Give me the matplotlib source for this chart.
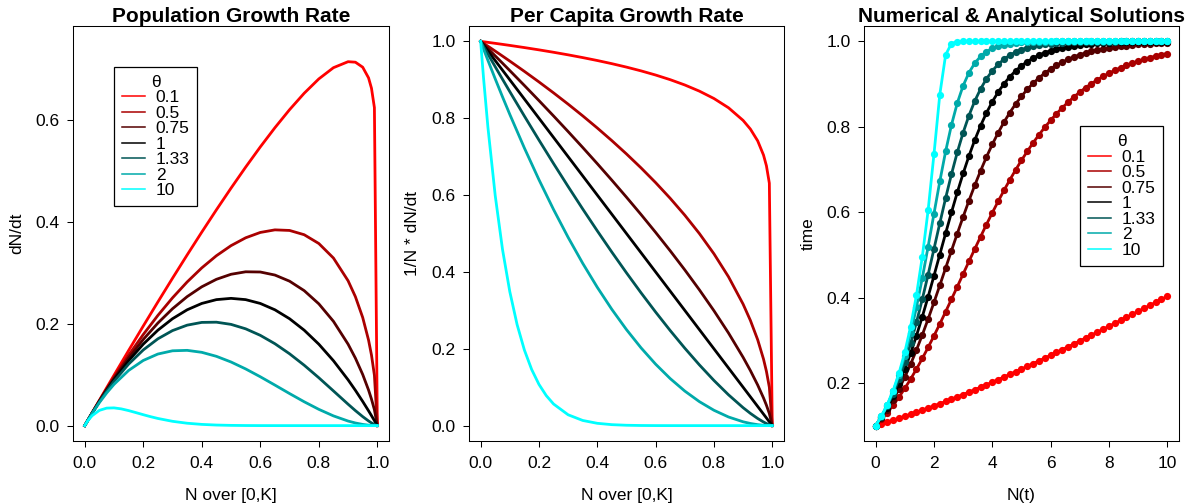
import matplotlib
matplotlib.use('agg')
import matplotlib.pyplot as plt

plt.rcParams['font.family'] = ['Liberation Sans', 'DejaVu Sans']
plt.rcParams['font.size'] = 12.5

# theta values and colours (red -> black -> cyan ramp)
theta_labels = ['0.1', '0.5', '0.75', '1', '1.33', '2', '10']
colors = ['#FF0000', '#AA0000', '#550000', '#000000', '#005555', '#00AAAA', '#00FFFF']

# N over [0,K]
N_grid = [0, 0.01, 0.025, 0.05, 0.075, 0.1, 0.15, 0.2, 0.25, 0.3, 0.35, 0.4, 0.45, 0.5,
          0.55, 0.6, 0.65, 0.7, 0.75, 0.8, 0.85, 0.9, 0.925, 0.95, 0.97, 0.98, 0.99, 1.0]
# finer grid near 0 for theta = 10
N_grid_10 = [0, 0.01, 0.025, 0.05, 0.075, 0.1, 0.125, 0.15, 0.175, 0.2, 0.225, 0.25, 0.3, 0.35,
             0.4, 0.45, 0.5, 0.55, 0.6, 0.65, 0.7, 0.8, 0.9, 1.0]

# population growth rate dN/dt
rate_01 = [0, .00999, .02494, .04974, .07442, .09895, .14758, .19559, .24291, .28949, .33524, .38008, .42389, .46652,
           .50779, .54746, .58522, .62060, .65291, .68107, .70312, .71490, .71391, .70407, .68310, .66272, .62465, 0]
rate_05 = [0, .00995, .02469, .04873, .07213, .09487, .13829, .17889, .21651, .25100, .28218, .30984, .33373, .35355,
           .36895, .37947, .38455, .38341, .375, .35777, .32921, .28461, .25332, .21243, .16801, .13859, .099, 0]
rate_075 = [0, .00992, .02453, .04811, .07074, .09240, .13279, .16918, .20148, .22959, .25337, .27269, .28740, .29730,
            .30219, .30178, .29579, .28375, .26516, .23926, .20488, .16005, .13258, .10045, .06992, .05212, .03130, 0]
rate_1 = [0, .0099, .024375, .0475, .069375, .09, .1275, .16, .1875, .21, .2275, .24, .2475, .25,
          .2475, .24, .2275, .21, .1875, .16, .1275, .09, .069375, .0475, .0291, .0196, .0099, 0]
rate_133 = [0, .00987, .02417, .04670, .06761, .08693, .12084, .14864, .17052, .18668, .19735, .20277, .20319, .19889,
            .19017, .17737, .16089, .14115, .11867, .09407, .06818, .04209, .02951, .01768, .00915, .00539, .00217, 0]
rate_2 = [0, .009801, .023766, .045125, .064172, .081, .108375, .128, .140625, .147, .147875, .144, .136125, .125,
          .111375, .096, .079625, .063, .046875, .032, .019125, .009, .005203, .002375, .000873, .000392, .000099, 0]
rate_10 = [0, .00904, .01941, .02994, .03439, .03487, .03289, .02953, .02556, .02147, .01759, .01408, .00848, .00471,
           .00242, .00114, .00049, .00019, .000063, .000018, .000004, 0, 0, 0]

# per capita growth rate 1/N * dN/dt
percap_01 = [1, .99900, .99747, .99488, .99223, .98952, .98388, .97793, .97164, .96496, .95783, .95020, .94197, .93303,
             .92325, .91244, .90034, .88657, .87055, .85134, .82720, .79433, .77179, .74113, .70423, .67624, .63096, 0]
percap_05 = [1, .99499, .98742, .97468, .96177, .94868, .92195, .89443, .86603, .83666, .80623, .77460, .74162, .70711,
             .67082, .63246, .59161, .54772, .5, .44721, .38730, .31623, .27386, .22361, .17321, .14142, .1, 0]
percap_075 = [1, .99249, .98119, .96226, .94320, .92402, .88524, .84590, .80593, .76529, .72391, .68173, .63866, .59460,
              .54943, .50297, .45504, .40536, .35355, .29907, .24103, .17783, .14332, .10574, .07208, .05318, .03162, 0]
percap_1 = [1, .99, .975, .95, .925, .9, .85, .8, .75, .7, .65, .6, .55, .5,
            .45, .4, .35, .3, .25, .2, .15, .1, .075, .05, .03, .02, .01, 0]
percap_133 = [1, .98672, .96689, .93405, .90151, .86925, .80561, .74321, .68207, .62227, .56386, .50692, .45153, .39777,
              .34576, .29562, .24752, .20164, .15822, .11759, .08021, .04677, .03190, .01861, .00943, .00550, .00219, 0]
percap_2 = [1, .9801, .950625, .9025, .855625, .81, .7225, .64, .5625, .49, .4225, .36, .3025, .25,
            .2025, .16, .1225, .09, .0625, .04, .0225, .01, .005625, .0025, .0009, .0004, .0001, 0]
percap_10 = [1, .90438, .77633, .59874, .45858, .34868, .26308, .19687, .14606, .10737, .07817, .05631, .02825, .01346,
             .00605, .00253, .00098, .00034, .000105, .000028, .000006, 0, 0, 0]

# numerical / analytical solutions, N starting at 0.1
time_pts = [0.0, 0.2, 0.4, 0.6, 0.8, 1.0, 1.2, 1.4, 1.6, 1.8, 2.0, 2.2, 2.4, 2.6, 2.8, 3.0, 3.2, 3.4, 3.6, 3.8,
            4.0, 4.2, 4.4, 4.6, 4.8, 5.0, 5.2, 5.4, 5.6, 5.8, 6.0, 6.2, 6.4, 6.6, 6.8, 7.0, 7.2, 7.4, 7.6, 7.8,
            8.0, 8.2, 8.4, 8.6, 8.8, 9.0, 9.2, 9.4, 9.6, 9.8, 10.0]
sol_01 = [0.1000, 0.1042, 0.1084, 0.1128, 0.1173, 0.1219, 0.1265, 0.1313, 0.1362, 0.1412, 0.1462, 0.1514, 0.1566,
          0.1620, 0.1674, 0.1729, 0.1786, 0.1843, 0.1900, 0.1959, 0.2018, 0.2078, 0.2139, 0.2201, 0.2263, 0.2325,
          0.2389, 0.2453, 0.2518, 0.2583, 0.2649, 0.2715, 0.2781, 0.2848, 0.2915, 0.2984, 0.3052, 0.3120, 0.3189,
          0.3258, 0.3327, 0.3396, 0.3466, 0.3536, 0.3606, 0.3676, 0.3746, 0.3816, 0.3886, 0.3956, 0.4026]
sol_05 = [0.1000, 0.1144, 0.1303, 0.1477, 0.1667, 0.1872, 0.2091, 0.2325, 0.2573, 0.2832, 0.3102, 0.3381, 0.3668,
          0.3959, 0.4254, 0.4550, 0.4846, 0.5139, 0.5427, 0.5710, 0.5985, 0.6251, 0.6508, 0.6754, 0.6989, 0.7213,
          0.7424, 0.7623, 0.7811, 0.7987, 0.8151, 0.8304, 0.8446, 0.8577, 0.8699, 0.8812, 0.8915, 0.9011, 0.9099,
          0.9179, 0.9253, 0.9320, 0.9382, 0.9438, 0.9489, 0.9536, 0.9579, 0.9618, 0.9653, 0.9686, 0.9715]
sol_075 = [0.1000, 0.1176, 0.1377, 0.1603, 0.1855, 0.2135, 0.2441, 0.2772, 0.3125, 0.3498, 0.3886, 0.4286, 0.4691,
           0.5097, 0.5498, 0.5890, 0.6269, 0.6630, 0.6971, 0.7291, 0.7586, 0.7858, 0.8106, 0.8331, 0.8533, 0.8714,
           0.8876, 0.9019, 0.9145, 0.9256, 0.9354, 0.9440, 0.9514, 0.9579, 0.9636, 0.9686, 0.9728, 0.9765, 0.9797,
           0.9825, 0.9849, 0.9870, 0.9888, 0.9903, 0.9917, 0.9928, 0.9938, 0.9947, 0.9954, 0.9961, 0.9966]
sol_1 = [0.1000, 0.1195, 0.1422, 0.1684, 0.1983, 0.2320, 0.2695, 0.3106, 0.3550, 0.4020, 0.4509, 0.5007, 0.5505,
         0.5994, 0.6463, 0.6906, 0.7316, 0.7690, 0.8026, 0.8324, 0.8585, 0.8811, 0.9005, 0.9170, 0.9310, 0.9428,
         0.9527, 0.9609, 0.9678, 0.9735, 0.9782, 0.9821, 0.9853, 0.9879, 0.9901, 0.9919, 0.9933, 0.9945, 0.9955,
         0.9963, 0.9970, 0.9975, 0.9980, 0.9983, 0.9986, 0.9989, 0.9991, 0.9993, 0.9994, 0.9995, 0.9996]
sol_133 = [0.1000, 0.1209, 0.1456, 0.1748, 0.2088, 0.2479, 0.2924, 0.3420, 0.3961, 0.4538, 0.5137, 0.5740, 0.6329,
           0.6888, 0.7402, 0.7862, 0.8263, 0.8604, 0.8888, 0.9122, 0.9311, 0.9461, 0.9582, 0.9676, 0.9749, 0.9807,
           0.9851, 0.9885, 0.9912, 0.9932, 0.9948, 0.9960, 0.9969, 0.9976, 0.9982, 0.9986, 0.9989, 0.9992, 0.9994,
           0.9995, 0.9996, 0.9997, 0.9998, 0.9998, 0.9999, 0.9999, 0.9999, 0.9999, 1.0000, 1.0000, 1.0000]
sol_2 = [0.1000, 0.1218, 0.1483, 0.1801, 0.2183, 0.2635, 0.3165, 0.3774, 0.4456, 0.5195, 0.5962, 0.6719, 0.7423,
         0.8042, 0.8556, 0.8961, 0.9267, 0.9490, 0.9650, 0.9761, 0.9838, 0.9890, 0.9926, 0.9950, 0.9967, 0.9978,
         0.9985, 0.9990, 0.9993, 0.9996, 0.9997, 0.9998, 0.9999, 0.9999, 0.9999] + [1.0] * 16
sol_10 = [0.1000, 0.1221, 0.1492, 0.1822, 0.2226, 0.2718, 0.3320, 0.4055, 0.4953, 0.6046, 0.7354, 0.8753, 0.9685,
          0.9950, 0.9993, 0.9999] + [1.0] * 35

grids = [N_grid] * 6 + [N_grid_10]
rates = [rate_01, rate_05, rate_075, rate_1, rate_133, rate_2, rate_10]
percaps = [percap_01, percap_05, percap_075, percap_1, percap_133, percap_2, percap_10]
sols = [sol_01, sol_05, sol_075, sol_1, sol_133, sol_2, sol_10]

fig = plt.figure(figsize=(11.93, 5.04), dpi=100)
ax1 = fig.add_axes([0.0612, 0.125, 0.2649, 0.8234])
ax2 = fig.add_axes([0.3931, 0.125, 0.2640, 0.8234])
ax3 = fig.add_axes([0.7242, 0.125, 0.2640, 0.8234])

for i in range(7):
    ax1.plot(grids[i], rates[i], color=colors[i], lw=2, label=theta_labels[i])
    ax2.plot(grids[i], percaps[i], color=colors[i], lw=2)
    ax3.plot(time_pts, sols[i], color=colors[i], lw=2, marker='o', ms=5.2,
             markeredgewidth=0, label=theta_labels[i])

ax1.set_xlim(-0.04, 1.04)
ax1.set_ylim(-0.0302, 0.785)
ax1.set_yticks([0.0, 0.2, 0.4, 0.6])
ax2.set_xlim(-0.04, 1.04)
ax2.set_ylim(-0.04, 1.04)
ax2.set_yticks([0.0, 0.2, 0.4, 0.6, 0.8, 1.0])
ax3.set_xlim(-0.4, 10.4)
ax3.set_ylim(0.064, 1.036)
ax3.set_xticks([0, 2, 4, 6, 8, 10])
ax3.set_yticks([0.2, 0.4, 0.6, 0.8, 1.0])

for ax in (ax1, ax2):
    ax.set_xticks([0.0, 0.2, 0.4, 0.6, 0.8, 1.0])
    ax.set_xticklabels(['0.0', '0.2', '0.4', '0.6', '0.8', '1.0'])
    ax.set_xlabel('N over [0,K]', labelpad=12)
ax1.set_yticklabels(['0.0', '0.2', '0.4', '0.6'])
ax2.set_yticklabels(['0.0', '0.2', '0.4', '0.6', '0.8', '1.0'])
ax3.set_yticklabels(['0.2', '0.4', '0.6', '0.8', '1.0'])
ax3.set_xlabel('N(t)', labelpad=12)

ax1.set_ylabel('dN/dt', labelpad=8)
ax2.set_ylabel('1/N * dN/dt', labelpad=8)
ax3.set_ylabel('time', labelpad=8)

ax1.set_title('Population Growth Rate', fontsize=15, fontweight='bold', pad=1)
ax2.set_title('Per Capita Growth Rate', fontsize=15, fontweight='bold', pad=1)
ax3.set_title('Numerical & Analytical Solutions', fontsize=15, fontweight='bold', pad=1)

for ax in (ax1, ax2, ax3):
    ax.tick_params(direction='out', length=4.5, width=0.75, colors='black')
    ax.tick_params(axis='x', pad=6.5)
    ax.tick_params(axis='y', pad=5)
    for s in ax.spines.values():
        s.set_linewidth(0.75)

leg_kw = dict(title='\u03b8', frameon=True, fancybox=False, edgecolor='black', framealpha=1,
              borderaxespad=0, labelspacing=0.02, handlelength=1.35, handletextpad=0.6,
              borderpad=0.45, fontsize=12.5, title_fontsize=12.5)
leg1 = ax1.legend(loc='upper left', bbox_to_anchor=(0.13, 0.901), **leg_kw)
leg1.get_frame().set_linewidth(0.9)
leg3 = ax3.legend(loc='upper left', bbox_to_anchor=(0.686, 0.758), **leg_kw)
leg3.get_frame().set_linewidth(0.9)
for leg in (leg1, leg3):
    for h in leg.legend_handles:
        h.set_marker('')
        h.set_linewidth(1.1)

fig.savefig('out.png', dpi=100)
